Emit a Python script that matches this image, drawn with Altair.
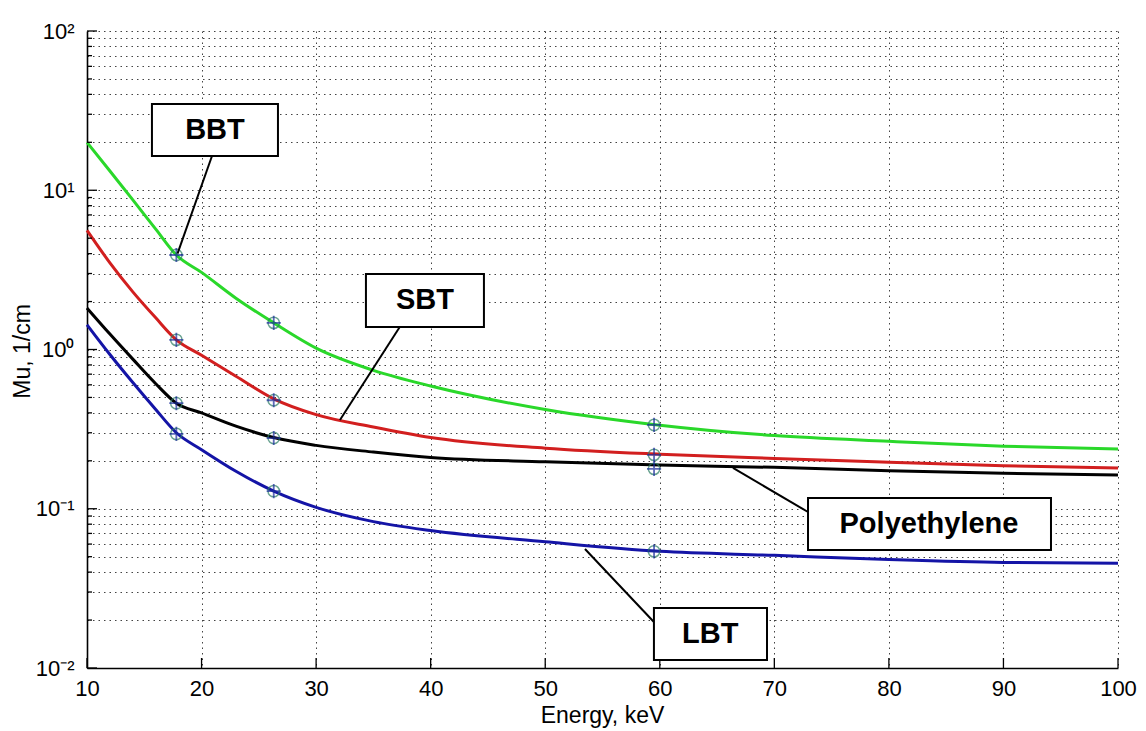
import altair as alt
import pandas as pd

# ---------------- data ----------------
energy = [10, 12, 14, 16, 17.8, 20, 23, 26.3, 30, 35, 40, 50, 60, 70, 80, 90, 100]
bbt = [20, 13.2, 8.7, 5.7, 3.92, 3.05, 2.1, 1.47, 1.02, 0.74, 0.59, 0.42, 0.335, 0.288, 0.265, 0.247, 0.237]
sbt = [5.6, 3.5, 2.3, 1.58, 1.15, 0.92, 0.68, 0.49, 0.39, 0.326, 0.28, 0.24, 0.22, 0.207, 0.196, 0.186, 0.18]
poly = [1.82, 1.25, 0.87, 0.61, 0.46, 0.40, 0.33, 0.28, 0.25, 0.227, 0.21, 0.197, 0.188, 0.182, 0.173, 0.167, 0.163]
lbt = [1.43, 0.93, 0.62, 0.42, 0.30, 0.235, 0.172, 0.129, 0.102, 0.083, 0.073, 0.062, 0.054, 0.051, 0.048, 0.046, 0.0455]

series_names = ["BBT", "SBT", "Polyethylene", "LBT"]
series_colors = ["#2ad82a", "#d21f1f", "#000000", "#1414a6"]

marker_energy = [17.8, 26.3, 59.5]
marker_bbt = [3.92, 1.47, 0.336]
marker_sbt = [1.15, 0.48, 0.218]
marker_poly = [0.46, 0.278, 0.178]
marker_lbt = [0.295, 0.129, 0.054]

x_ticks = [10, 20, 30, 40, 50, 60, 70, 80, 90, 100]
y_major = [0.01, 0.1, 1, 10, 100]
y_major_labels = ["10\u207b\u00b2", "10\u207b\u00b9", "10\u2070", "10\u00b9", "10\u00b2"]
y_minor_mult = [2, 3, 4, 5, 6, 7, 8, 9]

# annotation callouts (data coordinates)
ann_text = ["BBT", "SBT", "Polyethylene", "LBT"]
box_x1 = [15.67, 34.35, 72.94, 59.49]
box_x2 = [26.67, 44.65, 94.15, 69.36]
box_y1 = [34.8, 2.98, 0.1168, 0.02382]
box_y2 = [16.4, 1.384, 0.0551, 0.01123]
text_x = [21.17, 39.5, 83.5, 64.4]
text_y = [23.9, 2.05, 0.0802, 0.01635]
line_x1 = [20.91, 37.3, 66.39, 53.47]
line_y1 = [16.4, 1.384, 0.1803, 0.0559]
line_x2 = [17.9, 32.08, 72.94, 59.49]
line_y2 = [4.0, 0.361, 0.0954, 0.01945]

# ---------------- tables ----------------
curve_rows = []
for name, vals in zip(series_names, [bbt, sbt, poly, lbt]):
    for e, v in zip(energy, vals):
        curve_rows.append({"energy": e, "mu": v, "series": name})
curves = pd.DataFrame(curve_rows)

marker_rows = []
for name, vals in zip(series_names, [marker_bbt, marker_sbt, marker_poly, marker_lbt]):
    for e, v in zip(marker_energy, vals):
        marker_rows.append({"energy": e, "mu": v, "series": name})
markers = pd.DataFrame(marker_rows)

ann = pd.DataFrame({
    "text": ann_text, "bx1": box_x1, "bx2": box_x2, "by1": box_y1, "by2": box_y2,
    "tx": text_x, "ty": text_y, "lx1": line_x1, "ly1": line_y1, "lx2": line_x2, "ly2": line_y2,
})

y_all = []
for m in y_major[:-1]:
    y_all.append(m)
    for k in y_minor_mult:
        y_all.append(round(m * k, 6))
y_all.append(y_major[-1])
y_minor = [v for v in y_all if v not in y_major]

label_expr = "''"
for v, t in reversed(list(zip(y_major, y_major_labels))):
    label_expr = f"(abs(datum.value - {v}) < {v * 1e-6}) ? '{t}' : " + label_expr

FONT = "Liberation Sans"

xscale = alt.Scale(domain=[10, 100], nice=False)
yscale = alt.Scale(type="log", domain=[0.01, 100], nice=False)

x_axis = alt.Axis(values=x_ticks, title="Energy, keV", grid=True, ticks=False, tickSize=0,
                  labelPadding=10, labelFontSize=22, titleFontSize=23,
                  titleX=515, titleY=47, titleBaseline="middle", titleFontWeight="normal",
                  labelFlush=False)
y_axis = alt.Axis(values=y_all, title="Mu, 1/cm", grid=True, ticks=False, tickSize=0,
                  labelExpr=label_expr, labelPadding=13, labelFontSize=22,
                  titleFontSize=23, titleX=-65, titleY=320, titleAngle=270,
                  titleBaseline="middle", titleAlign="center", titleFontWeight="normal")

X = alt.X("energy:Q", scale=xscale, axis=x_axis)
Y = alt.Y("mu:Q", scale=yscale, axis=y_axis)

lines = alt.Chart(curves).mark_line(strokeWidth=3, interpolate="monotone").encode(
    x=X, y=Y,
    color=alt.Color("series:N", scale=alt.Scale(domain=series_names, range=series_colors), legend=None),
)

circles = alt.Chart(markers).mark_point(shape="circle", filled=False, size=130,
                                        strokeWidth=1.5, color="#2b7d63").encode(
    x=alt.X("energy:Q", scale=xscale), y=alt.Y("mu:Q", scale=yscale))
pluses = alt.Chart(markers).mark_point(shape="M-1,0L1,0M0,-1L0,1", filled=False, size=200,
                                       strokeWidth=1.8, color="#1a2c9c").encode(
    x=alt.X("energy:Q", scale=xscale), y=alt.Y("mu:Q", scale=yscale))

# inward tick marks
ymaj_df = pd.DataFrame({"mu": y_major})
ymin_df = pd.DataFrame({"mu": y_minor})
xt_df = pd.DataFrame({"energy": x_ticks})
ytick_major = alt.Chart(ymaj_df).mark_rule(color="black", strokeWidth=1.3).encode(
    y=alt.Y("mu:Q", scale=yscale), x=alt.value(0), x2=alt.value(10))
ytick_minor = alt.Chart(ymin_df).mark_rule(color="black", strokeWidth=1.3).encode(
    y=alt.Y("mu:Q", scale=yscale), x=alt.value(0), x2=alt.value(5))
xtick = alt.Chart(xt_df).mark_rule(color="black", strokeWidth=1.3).encode(
    x=alt.X("energy:Q", scale=xscale), y=alt.value(637), y2=alt.value(627))

pointers = alt.Chart(ann).mark_rule(color="black", strokeWidth=2).encode(
    x=alt.X("lx1:Q", scale=xscale), x2="lx2:Q",
    y=alt.Y("ly1:Q", scale=yscale), y2="ly2:Q")
boxes = alt.Chart(ann).mark_rect(fill="white", stroke="black", strokeWidth=2).encode(
    x=alt.X("bx1:Q", scale=xscale), x2="bx2:Q",
    y=alt.Y("by1:Q", scale=yscale), y2="by2:Q")
texts = alt.Chart(ann).mark_text(font=FONT, fontWeight="bold", fontSize=29, color="black",
                                 baseline="middle", align="center").encode(
    x=alt.X("tx:Q", scale=xscale), y=alt.Y("ty:Q", scale=yscale), text="text:N")

chart = alt.layer(
    lines, circles, pluses, ytick_major, ytick_minor, xtick, pointers, boxes, texts
).properties(
    width=1031, height=637,
    padding={"left": 79, "top": 23, "right": 20, "bottom": 62},
    autosize=alt.AutoSizeParams(type="none"),
    background="white",
).configure_view(stroke=None).configure_axis(
    labelFont=FONT, titleFont=FONT, labelColor="black", titleColor="black",
    domainColor="black", domainWidth=1.6,
    gridColor="#222222", gridDash=[1.5, 4], gridWidth=1, gridOpacity=0.85,
)

chart.save("out.html", embed_options={"renderer": "svg", "actions": False})
